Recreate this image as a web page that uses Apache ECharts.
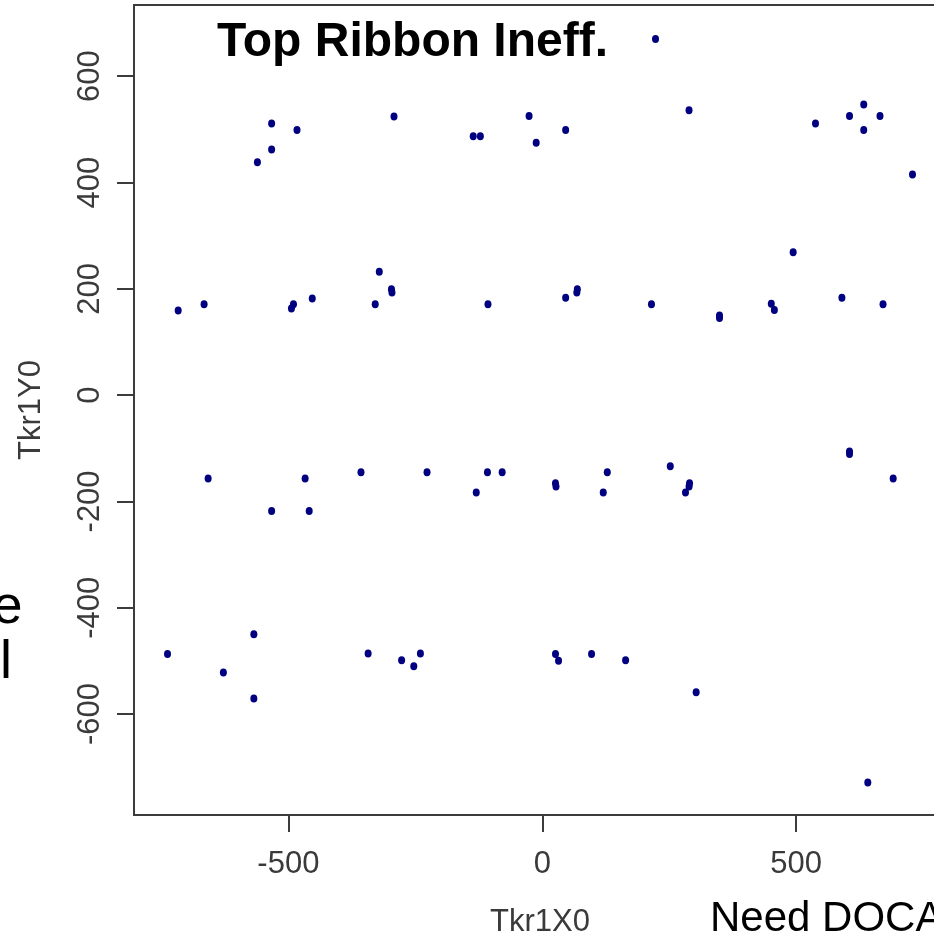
<!DOCTYPE html>
<html>
<head>
<meta charset="utf-8">
<script src="https://cdn.jsdelivr.net/npm/echarts@6/dist/echarts.min.js"></script>
<style>
  html, body { margin: 0; padding: 0; background: #ffffff; }
  #chart { width: 934px; height: 937px; }
</style>
</head>
<body>
<div id="chart"></div>
<script>
// Track hit positions of the first tracker layer (mm)
const tkr1X0 = [
  -561, -533, -533, -483, -292, -136, -122, -26, -12, 46, 223, 289, 538, 605, 633, 665, 633, 729,
  -717, -666, -494, -490, -453, -321, -297, -296, -329, -107, 46, 69, 68, 215, 349, 349, 451, 457, 494, 590, 671,
  -658, -533, -467, -459, -357, -227, -130, -108, -79, 26, 27, 120, 128, 252, 290, 289, 282, 605, 605, 691,
  -738, -568, -628, -568, -343, -277, -240, -253, 26, 32, 97, 164, 303, 641
];
const tkr1Y0 = [
  438, 511, 462, 499, 524, 487, 487, 525, 475, 499, 670, 536, 511, 525, 547, 525, 499, 415,
  159, 171, 163, 171, 182, 232, 199, 193, 171, 171, 183, 199, 193, 171, 150, 145, 172, 160, 269, 183, 171,
  -157, -218, -157, -218, -145, -145, -183, -145, -145, -166, -172, -183, -145, -134, -166, -172, -183, -106, -111, -157,
  -487, -450, -522, -571, -486, -499, -486, -510, -487, -500, -487, -499, -559, -729
];

// Axis ticks
const xTicks = [-500, 0, 500];
const yTicks = [-600, -400, -200, 0, 200, 400, 600];

const points = tkr1X0.map((x, i) => [x, tkr1Y0[i]]);

const frameColor = '#3c3c3c';
const labelColor = '#3a3a3a';
const labelFont = 'Liberation Sans, Arial, sans-serif';

const chart = echarts.init(document.getElementById('chart'), null, { renderer: 'canvas' });

chart.setOption({
  animation: false,
  backgroundColor: '#ffffff',
  grid: {
    left: 134, top: 5, width: 812, height: 810,
    outerBoundsMode: 'none', containLabel: false,
    show: true, borderColor: frameColor, borderWidth: 2,
    backgroundColor: 'transparent'
  },
  xAxis: {
    type: 'value', min: -804, max: 795,
    name: 'Tkr1X0', nameLocation: 'middle', nameGap: 92,
    nameTextStyle: { fontSize: 31, color: labelColor, fontFamily: labelFont },
    axisLine: { show: true, onZero: false, lineStyle: { color: frameColor, width: 2 } },
    axisTick: { show: true, length: 17, customValues: xTicks, lineStyle: { color: frameColor, width: 2 } },
    axisLabel: { customValues: xTicks, fontSize: 31, color: labelColor, fontFamily: labelFont, margin: 34 },
    splitLine: { show: false }
  },
  yAxis: {
    type: 'value', min: -790, max: 734,
    name: 'Tkr1Y0', nameLocation: 'middle', nameGap: 87, nameRotate: 90,
    nameTextStyle: { fontSize: 31, color: labelColor, fontFamily: labelFont },
    axisLine: { show: true, onZero: false, lineStyle: { color: frameColor, width: 2 } },
    axisTick: { show: true, length: 17, customValues: yTicks, lineStyle: { color: frameColor, width: 2 } },
    axisLabel: { customValues: yTicks, rotate: 90, fontSize: 31, color: labelColor, fontFamily: labelFont, margin: 28 },
    splitLine: { show: false }
  },
  series: [{
    type: 'scatter',
    data: points,
    symbol: 'circle',
    symbolSize: [7, 8],
    itemStyle: { color: '#000080', opacity: 1 },
    silent: true
  }],
  graphic: [
    {
      type: 'text', left: 217, top: 19,
      style: { text: 'Top Ribbon Ineff.', font: 'bold 48px Liberation Sans, Arial, sans-serif', fill: '#000000' }
    },
    {
      type: 'text', x: 710, y: 898,
      style: { text: 'Need DOCA', font: '42px Liberation Sans, Arial, sans-serif', fill: '#000000' }
    },
    {
      type: 'text', x: 22.5, y: 581,
      style: { text: 'e', align: 'right', font: '54px Liberation Sans, Arial, sans-serif', fill: '#000000' }
    },
    {
      type: 'text', x: 0, y: 636,
      style: { text: 'l', font: '54px Liberation Sans, Arial, sans-serif', fill: '#000000' }
    }
  ]
});
</script>
</body>
</html>
